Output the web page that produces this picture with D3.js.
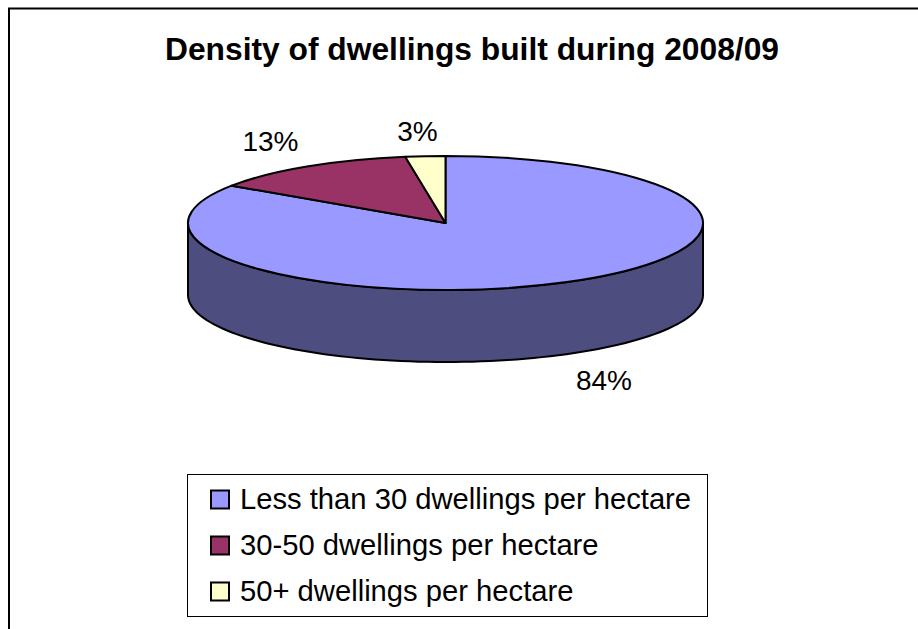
<!DOCTYPE html>
<html><head><meta charset="utf-8">
<script src="https://cdn.jsdelivr.net/npm/d3@7"></script>
<style>html,body{margin:0;padding:0;background:#fff}svg{display:block}text{font-family:"Liberation Sans",Arial,sans-serif;fill:#000}</style>
</head><body><svg id="c" width="918" height="629"></svg>
<script>
const categories = ["Less than 30 dwellings per hectare","30-50 dwellings per hectare","50+ dwellings per hectare"];
const values = [84.4,13.1,2.5];
const colors = ["#9999ff","#993366","#ffffcc"];
const sideColor = "#4d4d80";
const title = "Density of dwellings built during 2008/09";

const svg = d3.select("#c");
const cx=445.5, cy=223, rx=257.5, ry=67, depth=72;

svg.append("path").attr("d","M9,629V8.5H918").attr("fill","none").attr("stroke","#000").attr("stroke-width",2);
svg.append("text").attr("x",165).attr("y",60).attr("font-weight","bold").attr("font-size",31.7)
  .attr("textLength",614).attr("lengthAdjust","spacingAndGlyphs").text(title);

const arcs = d3.pie().sort(null).value(d=>d)(values);
const px = a => cx + rx*Math.sin(a), py = a => cy - ry*Math.cos(a);

// side wall: visible part of the rim (lower half)
const sideAngles = d3.range(Math.PI/2, 3*Math.PI/2+0.001, Math.PI/90);
const side = d3.line().x(d=>d[0]).y(d=>d[1]);
const wall = sideAngles.map(a=>[px(a),py(a)]).concat(sideAngles.slice().reverse().map(a=>[px(a),py(a)+depth]));
svg.append("path").attr("d",side(wall)+"Z").attr("fill",sideColor).attr("stroke","#000").attr("stroke-width",2).attr("stroke-linejoin","round");

// top face
const arc = d3.arc().innerRadius(0).outerRadius(rx);
svg.append("g").attr("transform",`translate(${cx},${cy}) scale(1,${ry/rx})`)
  .selectAll("path").data(arcs).join("path")
  .attr("d",arc).attr("fill",(d,i)=>colors[i])
  .attr("stroke","#000").attr("stroke-width",2).attr("stroke-linejoin","round")
  .attr("vector-effect","non-scaling-stroke");

// data labels
const labelPos = [[604,390],[270.5,151],[417.5,141]];
svg.append("g").selectAll("text").data(values).join("text")
  .attr("x",(d,i)=>labelPos[i][0]).attr("y",(d,i)=>labelPos[i][1])
  .attr("text-anchor","middle").attr("font-size",28).text(d=>Math.round(d)+"%");

// legend
svg.append("rect").attr("x",187.5).attr("y",474.5).attr("width",520).attr("height",142).attr("fill","#fff").attr("stroke","#000").attr("stroke-width",1);
const ly = d3.scalePoint().domain(categories).range([500,592]);
const lg = svg.append("g").selectAll("g").data(categories).join("g");
lg.append("rect").attr("x",211).attr("y",d=>ly(d)-9.5).attr("width",18).attr("height",18)
  .attr("fill",(d,i)=>colors[i]).attr("stroke","#000").attr("stroke-width",2);
lg.append("text").attr("x",240).attr("y",d=>ly(d)+9).attr("font-size",29.2).text(d=>d);
</script></body></html>
